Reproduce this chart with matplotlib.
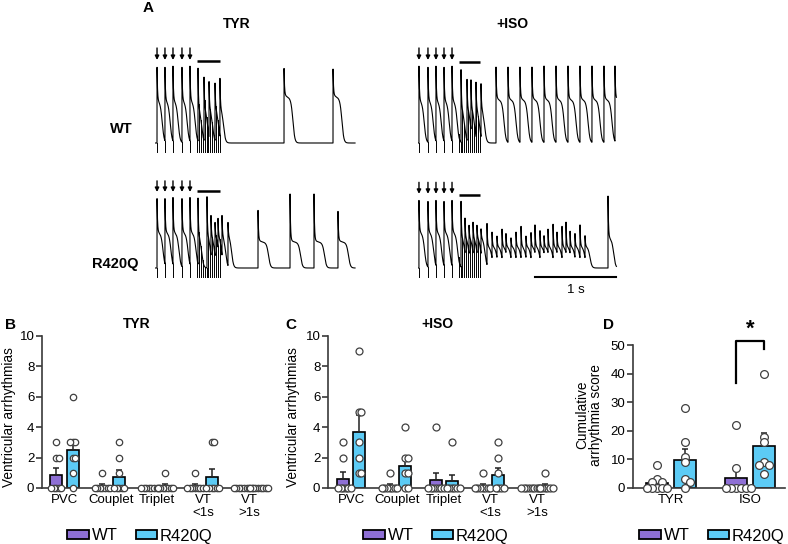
import numpy as np
import matplotlib
matplotlib.use("Agg")
import matplotlib.pyplot as plt
from matplotlib.patches import Patch

plt.rcParams['font.family'] = ['Liberation Sans', 'DejaVu Sans']

W, H = 788, 544
PX_PER_S = 81.0
WT_COLOR = "#8e6fd5"
R_COLOR = "#5ccbf5"
AX_COLOR = "#3a3a3a"

# ---------------- panel A: beat onsets (s) and normalised peaks ----------------
TYR_PACED = [0.025, 0.123, 0.222, 0.333, 0.432]
ISO_PACED = [0.012, 0.123, 0.222, 0.321, 0.420]
TYR_BURST_STIM = [0.52, 0.543, 0.567, 0.59, 0.613, 0.637, 0.66, 0.683, 0.707, 0.73, 0.753, 0.777, 0.80]
ISO_BURST_STIM = [0.50, 0.525, 0.549, 0.574, 0.598, 0.623, 0.647, 0.672, 0.696, 0.721, 0.745, 0.77]

wt_tyr_burst_t = [0.531, 0.605, 0.667, 0.741, 0.802]
wt_tyr_burst_pk = [1.0, 0.88, 0.82, 0.80, 0.85]
wt_tyr_spont_t = [1.593, 2.198]
wt_tyr_spont_pk = [0.98, 0.96]

r_tyr_burst_t = [0.531, 0.642, 0.691, 0.741, 0.778, 0.827, 0.901]
r_tyr_burst_pk = [1.0, 1.0, 0.75, 0.65, 0.70, 0.75, 0.65]
r_tyr_spont_t = [1.272, 1.667, 1.963, 2.259]
r_tyr_spont_pk = [0.80, 1.05, 1.05, 0.80]

wt_iso_burst_t = [0.531, 0.605, 0.654, 0.716, 0.778]
wt_iso_burst_pk = [0.98, 0.85, 0.83, 0.80, 0.78]
wt_iso_reg_t = [0.963, 1.111, 1.259, 1.407, 1.556, 1.704, 1.852, 2.0, 2.148, 2.296, 2.432]

r_iso_burst_t = [0.531, 0.58, 0.63, 0.679, 0.728, 0.778]
r_iso_burst_pk = [0.95, 0.70, 0.60, 0.65, 0.60, 0.55]
r_iso_osc_t = [0.852, 0.914, 0.975, 1.037, 1.086, 1.148, 1.210, 1.272, 1.333, 1.395, 1.444,
               1.506, 1.556, 1.605, 1.667, 1.716, 1.778, 1.827, 1.877, 1.938, 2.0, 2.062]
r_iso_osc_pk = [0.62, 0.50, 0.45, 0.55, 0.48, 0.42, 0.50, 0.58, 0.45, 0.50, 0.60,
                0.52, 0.45, 0.55, 0.62, 0.50, 0.58, 0.65, 0.52, 0.48, 0.60, 0.45]
r_iso_final_t = [2.346]
r_iso_final_pk = [1.0]

# ---------------- panels B-D: arrhythmia counts per heart ----------------
categories = ["PVC", "Couplet", "Triplet", "VT\n<1s", "VT\n>1s"]

tyr_wt = [[3, 2, 2, 0, 0, 0, 0, 0], [1, 0, 0, 0, 0, 0, 0, 0], [0, 0, 0, 0, 0, 0, 0, 0],
          [1, 0, 0, 0, 0, 0, 0, 0], [0, 0, 0, 0, 0, 0, 0, 0]]
tyr_r = [[6, 3, 3, 3, 2, 2, 1, 0], [3, 2, 1, 0, 0, 0, 0, 0], [1, 0, 0, 0, 0, 0, 0, 0],
         [3, 3, 0, 0, 0, 0, 0, 0], [0, 0, 0, 0, 0, 0, 0, 0]]

iso_wt = [[3, 2, 0, 0, 0, 0, 0, 0], [1, 0, 0, 0, 0, 0, 0, 0], [4, 0, 0, 0, 0, 0, 0, 0],
          [1, 0, 0, 0, 0, 0, 0, 0], [0, 0, 0, 0, 0, 0, 0, 0]]
iso_r = [[9, 5, 5, 3, 2, 1, 1], [4, 2, 2, 1, 1, 0, 0], [3, 0, 0, 0, 0, 0, 0],
         [3, 2, 1, 0, 0, 0, 0], [1, 0, 0, 0, 0, 0, 0]]

score_groups = ["TYR", "ISO"]
score_wt = [[8, 3, 2, 2, 0, 0, 0, 0, 0], [22, 7, 0, 0, 0, 0, 0, 0]]
score_r = [[28, 16, 11, 9, 3, 2, 0], [40, 18, 16, 9, 8, 8, 5]]

fig = plt.figure(figsize=(W / 100, H / 100), dpi=100)


def box(x0, y0, x1, y1):
    return [x0 / W, 1 - y1 / H, (x1 - x0) / W, (y1 - y0) / H]


def ftext(x, y, s, **kw):
    fig.text(x / W, 1 - y / H, s, **kw)


def ap(tau, peak, plat, apd):
    spike = (peak - plat) * np.exp(-tau / 0.006)
    body = plat * (1 - 0.8 * tau) / (1 + np.exp((tau - apd) / 0.012))
    return spike + body


def build_trace(sections, t_end, dt=0.0004):
    on, pk, pl, ad = [], [], [], []
    for times, peaks, plat, apd in sections:
        for t0, p in zip(times, peaks):
            on.append(t0); pk.append(p); pl.append(plat); ad.append(apd)
    order = np.argsort(on)
    on, pk, pl, ad = (np.asarray(a)[order] for a in (on, pk, pl, ad))
    t = np.arange(0, t_end, dt)
    v = np.zeros_like(t)
    idx = np.searchsorted(on, t, side="right") - 1
    ok = idx >= 0
    i = idx[ok]
    v[ok] = ap(t[ok] - on[i], pk[i], pl[i], ad[i])
    return t, v


def trace_axes(x0, top, bottom, base_px, peak_px, dur=2.5):
    ax = fig.add_axes(box(x0, top, x0 + dur * PX_PER_S, bottom))
    unit = base_px - peak_px
    ax.set_xlim(0, dur)
    ax.set_ylim((base_px - bottom) / unit, (base_px - top) / unit)
    ax.axis("off")
    return ax


def draw_trace(ax, t, v, stims, burst, arrow_tail, arrow_tip, bar_y, low=-0.12):
    ax.plot(t, v, color="k", lw=0.8)
    for ts in stims:
        vi = np.interp(ts - 0.0008, t, v)
        ax.plot([ts, ts], [low, vi], color="k", lw=0.7)
    for ts in stims[:5]:
        ax.annotate("", xy=(ts, arrow_tip), xytext=(ts, arrow_tail),
                    arrowprops=dict(arrowstyle="-|>", color="k", lw=1.0,
                                    mutation_scale=6, shrinkA=0, shrinkB=0),
                    annotation_clip=False)
    ax.plot([burst[0], burst[-1]], [bar_y, bar_y], color="k", lw=1.8,
            solid_capstyle="butt", clip_on=False)


# --- WT / TYR
ax = trace_axes(155, 40, 160, 143, 66)
t, v = build_trace([(TYR_PACED, [1.0] * 5, 0.55, 0.065),
                    (wt_tyr_burst_t, wt_tyr_burst_pk, 0.45, 0.045),
                    (wt_tyr_spont_t, wt_tyr_spont_pk, 0.62, 0.11)], 2.47)
draw_trace(ax, t, v, TYR_PACED + TYR_BURST_STIM, TYR_BURST_STIM, 1.234, 1.078, 1.065)

# --- R420Q / TYR
ax = trace_axes(155, 170, 300, 268, 196)
t, v = build_trace([(TYR_PACED, [0.98] * 5, 0.5, 0.075),
                    (r_tyr_burst_t, r_tyr_burst_pk, 0.45, 0.045),
                    (r_tyr_spont_t, r_tyr_spont_pk, 0.38, 0.13)], 2.47)
draw_trace(ax, t, v, TYR_PACED + TYR_BURST_STIM, TYR_BURST_STIM, 1.21, 1.056, 1.07)

# --- WT / ISO
ax = trace_axes(418, 40, 160, 143, 66)
t, v = build_trace([(ISO_PACED, [1.0] * 5, 0.55, 0.065),
                    (wt_iso_burst_t, wt_iso_burst_pk, 0.45, 0.045),
                    (wt_iso_reg_t, [1.0] * len(wt_iso_reg_t), 0.58, 0.1)], 2.45)
draw_trace(ax, t, v, ISO_PACED + ISO_BURST_STIM, ISO_BURST_STIM, 1.234, 1.078, 1.05)

# --- R420Q / ISO
ax = trace_axes(418, 170, 300, 268, 196)
t, v = build_trace([(ISO_PACED, [0.94] * 5, 0.5, 0.07),
                    (r_iso_burst_t, r_iso_burst_pk, 0.42, 0.05),
                    (r_iso_osc_t, r_iso_osc_pk, 0.3, 0.062),
                    (r_iso_final_t, r_iso_final_pk, 0.42, 0.07)], 2.45)
draw_trace(ax, t, v, ISO_PACED + ISO_BURST_STIM, ISO_BURST_STIM, 1.19, 1.03, 1.01)
ax.plot([1.444, 2.444], [-0.125, -0.125], color="k", lw=1.5, clip_on=False)
ax.text(1.944, -0.22, "1 s", ha="center", va="top", fontsize=9.5)

ftext(143, 8, "A", fontsize=11, fontweight="bold", ha="left", va="center")
ftext(237, 24, "TYR", fontsize=10, fontweight="bold", ha="center", va="center")
ftext(512, 24, "+ISO", fontsize=10, fontweight="bold", ha="center", va="center")
ftext(121, 129, "WT", fontsize=10.5, fontweight="bold", ha="center", va="center")
ftext(115, 264, "R420Q", fontsize=10.5, fontweight="bold", ha="center", va="center")


# ---------------- bar panels ----------------
def swarm(vals, xpu, ypu, spacing):
    vals = np.asarray(vals, float)
    offs = np.zeros(len(vals))
    placed = []
    cands = [0.0]
    for k in range(1, 30):
        cands += [k * spacing / 2, -k * spacing / 2]
    for i in np.argsort(-vals, kind="stable"):
        for c in cands:
            if all(np.hypot(c - px, (vals[i] - py) * ypu) >= spacing * 0.99 for px, py in placed):
                offs[i] = c / xpu
                placed.append((c, vals[i]))
                break
    return offs


def style_axes(ax):
    for s in ("top", "right"):
        ax.spines[s].set_visible(False)
    for s in ("left", "bottom"):
        ax.spines[s].set_color(AX_COLOR)
        ax.spines[s].set_linewidth(1.2)
    ax.tick_params(axis="y", length=4, width=1.2, color=AX_COLOR, labelsize=9.5, pad=1.5)
    ax.tick_params(axis="x", length=0, labelsize=9.5, pad=4)


def bar_panel(ax, wt, r, off, width, xpu, ypu, ms, spacing):
    for i, (gw, gr) in enumerate(zip(wt, r)):
        for vals, dx, col in ((gw, -off, WT_COLOR), (gr, off, R_COLOR)):
            vals = np.asarray(vals, float)
            m = vals.mean()
            se = vals.std(ddof=1) / np.sqrt(len(vals))
            x = i + dx
            ax.bar(x, m, width, color=col, edgecolor="k", linewidth=1.2, zorder=2)
            if se > 0:
                ax.errorbar(x, m, yerr=[[0], [se]], fmt="none", ecolor="#222222",
                            elinewidth=1.1, capsize=2.5, capthick=1.1, zorder=3)
            ax.plot(x + swarm(vals, xpu, ypu, spacing), vals, "o", ms=ms, mfc="white",
                    mec="#404040", mew=0.9, zorder=4, clip_on=False)


def add_legend(cx, cy):
    handles = [Patch(facecolor=WT_COLOR, edgecolor="k", linewidth=1.3),
               Patch(facecolor=R_COLOR, edgecolor="k", linewidth=1.3)]
    fig.legend(handles, ["WT", "R420Q"], ncol=2, loc="center",
               bbox_to_anchor=(cx / W, 1 - cy / H), frameon=False, fontsize=12,
               handlelength=1.3, handleheight=0.5, handletextpad=0.15,
               columnspacing=1.1, borderpad=0)


# B
axB = fig.add_axes(box(42, 336, 270, 488))
bar_panel(axB, tyr_wt, tyr_r, 0.18, 0.26, 46.3, 15.2, 4.6, 2.6)
axB.set_xlim(-0.486, 4.44)
axB.set_ylim(0, 10)
axB.set_yticks(range(0, 11, 2))
axB.set_xticks(range(5))
axB.set_xticklabels(categories, linespacing=1.15)
style_axes(axB)
ftext(137, 331, "TYR", fontsize=10, fontweight="bold", ha="center", va="bottom")
ftext(9, 417, "Ventricular arrhythmias", fontsize=9.8, rotation=90, ha="center", va="center")
ftext(5, 325, "B", fontsize=11, fontweight="bold", ha="left", va="center")
add_legend(140, 536)

# C
axC = fig.add_axes(box(328, 336, 555, 488))
bar_panel(axC, iso_wt, iso_r, 0.17, 0.26, 46.5, 15.2, 5.0, 2.6)
axC.set_xlim(-0.495, 4.39)
axC.set_ylim(0, 10)
axC.set_yticks(range(0, 11, 2))
axC.set_xticks(range(5))
axC.set_xticklabels(categories, linespacing=1.15)
style_axes(axC)
ftext(437, 331, "+ISO", fontsize=10, fontweight="bold", ha="center", va="bottom")
ftext(293, 417, "Ventricular arrhythmias", fontsize=9.8, rotation=90, ha="center", va="center")
ftext(285, 325, "C", fontsize=11, fontweight="bold", ha="left", va="center")
add_legend(436, 536)

# D
axD = fig.add_axes(box(633, 345, 785, 488))
bar_panel(axD, score_wt, score_r, 0.177, 0.28, 79.0, 2.86, 5.6, 5.0)
axD.set_xlim(-0.48, 1.44)
axD.set_ylim(0, 50)
axD.set_yticks(range(0, 51, 10))
axD.set_xticks(range(2))
axD.set_xticklabels(score_groups)
style_axes(axD)
axD.plot([1 - 0.177, 1 - 0.177, 1 + 0.177, 1 + 0.177], [36.7, 51.4, 51.4, 48.6],
         color="k", lw=1.6, clip_on=False)
axD.text(1.0, 52.0, "*", ha="center", va="bottom", fontsize=16, fontweight="bold")
ftext(582, 415, "Cumulative", fontsize=9.8, rotation=90, ha="center", va="center")
ftext(596, 415, "arrhythmia score", fontsize=9.8, rotation=90, ha="center", va="center")
ftext(603, 325, "D", fontsize=11, fontweight="bold", ha="left", va="center")
add_legend(712, 536)

fig.savefig("out.png", dpi=100)
